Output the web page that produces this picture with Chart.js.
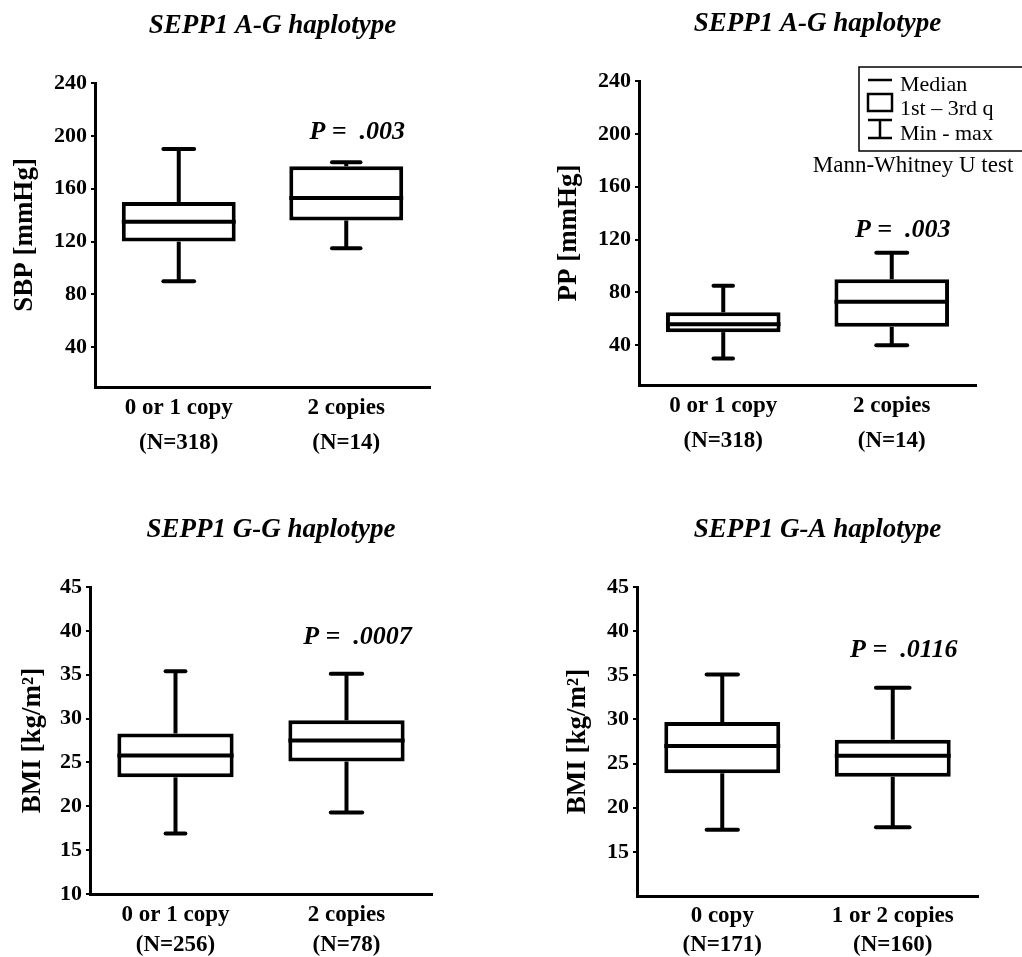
<!DOCTYPE html>
<html>
<head>
<meta charset="utf-8">
<title>SEPP1 haplotypes</title>
<script src="https://cdn.jsdelivr.net/npm/chart.js@4.4.1/dist/chart.umd.min.js"></script>
<style>
  html, body { margin: 0; padding: 0; background: #fff; }
  #fig { position: relative; width: 1022px; height: 957px; overflow: hidden; }
  #fig canvas { position: absolute; }
</style>
</head>
<body>
<div id="fig">
  <canvas id="c-sbp" width="511" height="480" style="left:0;top:0"></canvas>
  <canvas id="c-pp" width="511" height="480" style="left:511px;top:0"></canvas>
  <canvas id="c-bmi-gg" width="511" height="480" style="left:0;top:477px"></canvas>
  <canvas id="c-bmi-ga" width="511" height="480" style="left:511px;top:477px"></canvas>
</div>
<script>
// --- dados ---
const groupsAG = [['0 or 1 copy', '(N=318)'], ['2 copies', '(N=14)']];
const groupsGG = [['0 or 1 copy', '(N=256)'], ['2 copies', '(N=78)']];
const groupsGA = [['0 copy', '(N=171)'], ['1 or 2 copies', '(N=160)']];

const sbpMin = [90, 115];
const sbpQ1 = [120, 136];
const sbpMedian = [135, 153];
const sbpQ3 = [150, 177];
const sbpMax = [190, 180];

const ppMin = [30, 40];
const ppQ1 = [50, 54];
const ppMedian = [56, 73];
const ppQ3 = [65, 90];
const ppMax = [85, 110];

const bmiGGMin = [16.9, 19.3];
const bmiGGQ1 = [23.3, 25.1];
const bmiGGMedian = [25.8, 27.5];
const bmiGGQ3 = [28.3, 29.8];
const bmiGGMax = [35.4, 35.1];

const bmiGAMin = [17.5, 17.8];
const bmiGAQ1 = [23.9, 23.5];
const bmiGAMedian = [27.0, 25.9];
const bmiGAQ3 = [29.7, 27.7];
const bmiGAMax = [35.1, 33.6];

const ticksMmHg = [40, 80, 120, 160, 200, 240];
const ticksBmiGG = [10, 15, 20, 25, 30, 35, 40, 45];
const ticksBmiGA = [15, 20, 25, 30, 35, 40, 45];

const FONT = "'Liberation Serif', 'Times New Roman', serif";

// Bigodes (min-max) e mediana desenhados sobre as barras flutuantes [Q1, Q3].
const boxWhiskerPlugin = {
    id: 'boxWhisker',
    afterDatasetsDraw(chart, args, opts) {
        const { ctx, scales: { x, y } } = chart;
        const bars = chart.getDatasetMeta(0).data;
        const line = (x1, y1, x2, y2) => { ctx.beginPath(); ctx.moveTo(x1, y1); ctx.lineTo(x2, y2); ctx.stroke(); };
        ctx.save();
        ctx.strokeStyle = '#000';
        ctx.lineWidth = 4;
        opts.median.forEach((m, i) => {
            const cx = x.getPixelForValue(i);
            const half = bars[i].width / 2;
            const cap = bars[i].width * opts.capFrac[i] / 2;
            const yMax = y.getPixelForValue(opts.max[i]);
            const yMin = y.getPixelForValue(opts.min[i]);
            line(cx, y.getPixelForValue(opts.q3[i]), cx, yMax);
            line(cx, y.getPixelForValue(opts.q1[i]), cx, yMin);
            ctx.lineCap = 'round';
            line(cx - cap, yMax, cx + cap, yMax);
            line(cx - cap, yMin, cx + cap, yMin);
            ctx.lineCap = 'butt';
            line(cx - half, y.getPixelForValue(m), cx + half, y.getPixelForValue(m));
        });
        ctx.restore();
    }
};

// Título do painel, valor de P e (no painel PP) a legenda.
const panelTextPlugin = {
    id: 'panelText',
    afterDraw(chart, args, opts) {
        const { ctx, chartArea: a, scales: { x, y } } = chart;
        ctx.save();
        ctx.fillStyle = '#000';
        ctx.textAlign = 'center';
        ctx.textBaseline = 'middle';
        ctx.font = `italic bold 27px ${FONT}`;
        ctx.fillText(opts.title, (a.left + a.right) / 2 + 10, a.top - 57);
        ctx.font = `italic bold 26px ${FONT}`;
        ctx.fillText(opts.pText, x.getPixelForValue(1) + 11, y.getPixelForValue(opts.pAt));

        if (opts.legend) {
            const L = a.right - 117, T = a.top - 14;
            ctx.strokeStyle = '#000';
            ctx.lineWidth = 1.5;
            ctx.strokeRect(L, T, 200, 84);
            ctx.lineWidth = 2.5;
            const sx = L + 9, sw = 24, scx = sx + sw / 2;
            ctx.beginPath(); ctx.moveTo(sx, T + 13); ctx.lineTo(sx + sw, T + 13); ctx.stroke();
            ctx.strokeRect(sx, T + 27, sw, 17);
            ctx.beginPath();
            ctx.moveTo(sx, T + 53); ctx.lineTo(sx + sw, T + 53);
            ctx.moveTo(scx, T + 53); ctx.lineTo(scx, T + 71);
            ctx.moveTo(sx, T + 71); ctx.lineTo(sx + sw, T + 71);
            ctx.stroke();
            ctx.font = `22px ${FONT}`;
            ctx.textAlign = 'left';
            ctx.fillText('Median', L + 41, T + 18);
            ctx.fillText('1st \u2013 3rd q', L + 41, T + 42);
            ctx.fillText('Min - max', L + 41, T + 67);
            ctx.font = `23px ${FONT}`;
            ctx.textAlign = 'center';
            ctx.fillText('Mann-Whitney U test', L + 54, T + 99);
        }
        ctx.restore();
    }
};

function createBoxPanel(cfg) {
    const area = cfg.area;
    const canvas = document.getElementById(cfg.canvasId);
    return new Chart(canvas, {
        type: 'bar',
        data: {
            labels: cfg.labels,
            datasets: [{
                data: cfg.q1.map((v, i) => [v, cfg.q3[i]]),
                backgroundColor: '#fff',
                borderColor: '#000',
                borderWidth: 4,
                borderSkipped: false,
                categoryPercentage: 1,
                barPercentage: 0.68
            }]
        },
        options: {
            responsive: false,
            animation: false,
            layout: { padding: { top: area.top, right: canvas.width - area.right, left: 0, bottom: 0 } },
            scales: {
                x: {
                    grid: { display: false, drawTicks: false },
                    border: { display: true, color: '#000', width: 3 },
                    ticks: {
                        color: '#000',
                        padding: cfg.labelPad,
                        maxRotation: 0,
                        autoSkip: false,
                        font: { family: FONT, size: 23, weight: 'bold', lineHeight: cfg.labelLine }
                    },
                    afterFit: (s) => { s.height = canvas.height - area.bottom; }
                },
                y: {
                    min: cfg.yMin,
                    max: cfg.yMax,
                    afterBuildTicks: (s) => { s.ticks = cfg.yTicks.map(v => ({ value: v })); },
                    grid: { display: true, drawOnChartArea: false, drawTicks: true, tickLength: 4, color: '#000', lineWidth: 2 },
                    border: { display: true, color: '#000', width: 3 },
                    ticks: { color: '#000', padding: 4, font: { family: FONT, size: 22, weight: 'bold' } },
                    title: {
                        display: true,
                        text: cfg.yTitle,
                        color: '#000',
                        padding: { top: cfg.yTitlePad, bottom: 0 },
                        font: { family: FONT, size: 27, weight: 'bold' }
                    },
                    afterFit: (s) => { s.width = area.left; }
                }
            },
            plugins: {
                legend: { display: false },
                tooltip: { enabled: false },
                boxWhisker: { min: cfg.min, q1: cfg.q1, median: cfg.median, q3: cfg.q3, max: cfg.max, capFrac: cfg.capFrac },
                panelText: { title: cfg.title, pText: cfg.pText, pAt: cfg.pAt, legend: !!cfg.legend }
            }
        },
        plugins: [boxWhiskerPlugin, panelTextPlugin]
    });
}

// --- Painel 1: SBP ---
createBoxPanel({
    canvasId: 'c-sbp', title: 'SEPP1 A-G haplotype', yTitle: 'SBP [mmHg]', yTitlePad: 9,
    labels: groupsAG, min: sbpMin, q1: sbpQ1, median: sbpMedian, q3: sbpQ3, max: sbpMax,
    yMin: 10, yMax: 240, yTicks: ticksMmHg, pText: 'P =  .003', pAt: 203,
    capFrac: [0.27, 0.25], area: { left: 95, top: 83, right: 430, bottom: 387 },
    labelPad: 4, labelLine: 1.5
});

// --- Painel 2: PP (com legenda) ---
createBoxPanel({
    canvasId: 'c-pp', title: 'SEPP1 A-G haplotype', yTitle: 'PP [mmHg]', yTitlePad: 42,
    labels: groupsAG, min: ppMin, q1: ppQ1, median: ppMedian, q3: ppQ3, max: ppMax,
    yMin: 10, yMax: 240, yTicks: ticksMmHg, pText: 'P =  .003', pAt: 127,
    capFrac: [0.17, 0.27], area: { left: 128, top: 81, right: 465, bottom: 385 },
    labelPad: 4, labelLine: 1.5, legend: true
});

// --- Painel 3: BMI, haplótipo G-G ---
createBoxPanel({
    canvasId: 'c-bmi-gg', title: 'SEPP1 G-G haplotype', yTitle: 'BMI [kg/m\u00b2]', yTitlePad: 17,
    labels: groupsGG, min: bmiGGMin, q1: bmiGGQ1, median: bmiGGMedian, q3: bmiGGQ3, max: bmiGGMax,
    yMin: 10, yMax: 45, yTicks: ticksBmiGG, pText: 'P =  .0007', pAt: 39.3,
    capFrac: [0.17, 0.27], area: { left: 90, top: 110, right: 432, bottom: 417 },
    labelPad: 6, labelLine: 1.3
});

// --- Painel 4: BMI, haplótipo G-A ---
createBoxPanel({
    canvasId: 'c-bmi-ga', title: 'SEPP1 G-A haplotype', yTitle: 'BMI [kg/m\u00b2]', yTitlePad: 51,
    labels: groupsGA, min: bmiGAMin, q1: bmiGAQ1, median: bmiGAMedian, q3: bmiGAQ3, max: bmiGAMax,
    yMin: 10, yMax: 45, yTicks: ticksBmiGA, pText: 'P =  .0116', pAt: 37.8,
    capFrac: [0.27, 0.29], area: { left: 126, top: 110, right: 467, bottom: 419 },
    labelPad: 6, labelLine: 1.24
});
</script>
</body>
</html>
